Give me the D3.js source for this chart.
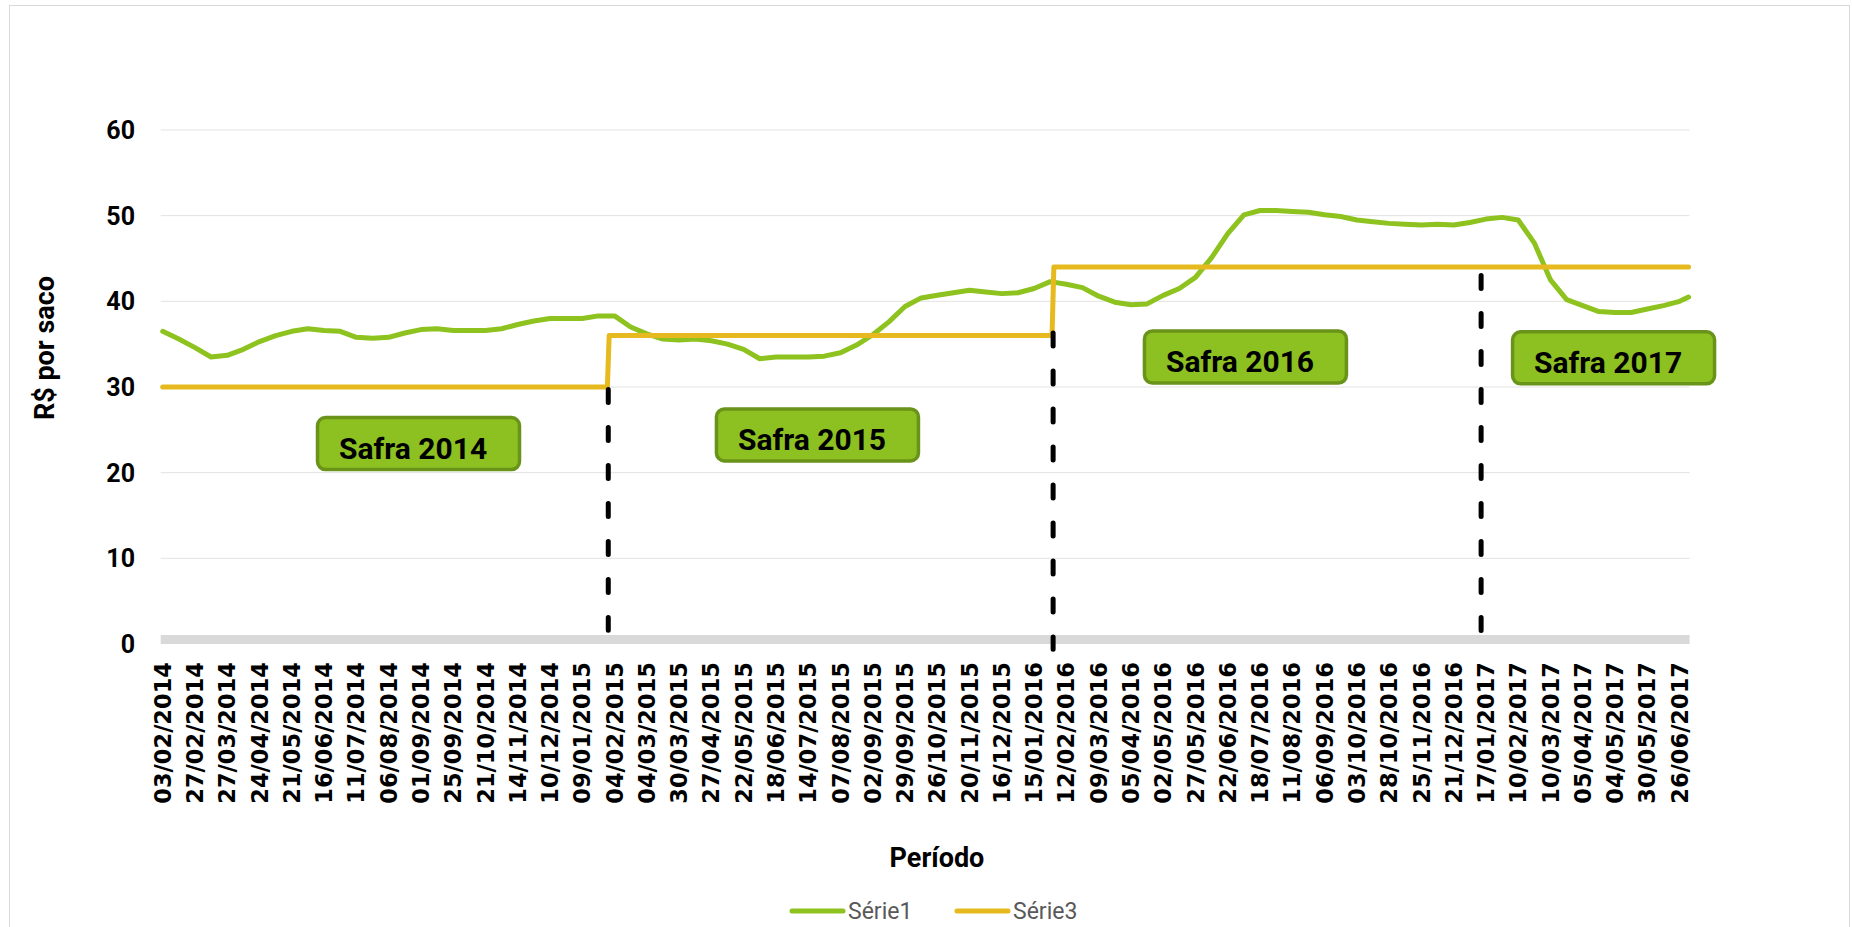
<!DOCTYPE html>
<html>
<head>
<meta charset="utf-8">
<script src="https://cdn.jsdelivr.net/npm/d3@7"></script>
<style>
  body { margin: 0; background: #fff; }
  svg { display: block; }
</style>
</head>
<body>
<svg width="1852" height="927"></svg>
<script>
// rótulos do eixo X (um a cada 18 pregões)
const rotulosDatas = [
  "03/02/2014","27/02/2014","27/03/2014","24/04/2014","21/05/2014","16/06/2014",
  "11/07/2014","06/08/2014","01/09/2014","25/09/2014","21/10/2014","14/11/2014",
  "10/12/2014","09/01/2015","04/02/2015","04/03/2015","30/03/2015","27/04/2015",
  "22/05/2015","18/06/2015","14/07/2015","07/08/2015","02/09/2015","29/09/2015",
  "26/10/2015","20/11/2015","16/12/2015","15/01/2016","12/02/2016","09/03/2016",
  "05/04/2016","02/05/2016","27/05/2016","22/06/2016","18/07/2016","11/08/2016",
  "06/09/2016","03/10/2016","28/10/2016","25/11/2016","21/12/2016","17/01/2017",
  "10/02/2017","10/03/2017","05/04/2017","04/05/2017","30/05/2017","26/06/2017"
];
const passoRotulos = 18;
const totalPregoes = 851;

// Série1: preço (R$/saco) lido a cada 9 pregões
const passoSerie1 = 9;
const serie1 = [
  36.5, 35.6, 34.6, 33.5, 33.7, 34.4, 35.3, 36.0, 36.5, 36.8,
  36.6, 36.5, 35.8, 35.7, 35.8, 36.3, 36.7, 36.8, 36.6, 36.6,
  36.6, 36.8, 37.3, 37.7, 38.0, 38.0, 38.0, 38.3, 38.3, 37.0,
  36.2, 35.6, 35.5, 35.6, 35.4, 35.0, 34.4, 33.3, 33.5, 33.5,
  33.5, 33.6, 34.0, 34.9, 36.1, 37.6, 39.4, 40.4, 40.7, 41.0,
  41.3, 41.1, 40.9, 41.0, 41.5, 42.3, 42.0, 41.6, 40.6, 39.9,
  39.6, 39.7, 40.7, 41.5, 42.8, 45.1, 47.9, 50.1, 50.6, 50.6,
  50.5, 50.4, 50.1, 49.9, 49.5, 49.3, 49.1, 49.0, 48.9, 49.0,
  48.9, 49.2, 49.6, 49.8, 49.5, 46.8, 42.5, 40.2, 39.5, 38.8,
  38.7, 38.7, 39.1, 39.5, 40.0
];
const serie1Ultimo = 40.5;

// Série3: preço mínimo por safra
const serie3Valores = [30, 36, 44];
const serie3Inicio = [0, 249, 497];

// divisórias tracejadas entre safras
const divisoriasIdx = [248.5, 496.6, 735.3];
const divisoriasTopo = [30, 36.6, 43.3];
const divisoriasBase = [1.3, -0.9, 1.1];

// caixas das safras
const safrasRotulos = ["Safra 2014", "Safra 2015", "Safra 2016", "Safra 2017"];
const safrasIdx = [85.5, 308, 546.7, 752];
const safrasValor = [23.4, 24.4, 33.5, 33.4];

const yTicks = [0, 10, 20, 30, 40, 50, 60];

const verde = "#8dc21f", amarelo = "#e6b91e";

const svg = d3.select("svg");

svg.append("rect")
  .attr("x", 9.5).attr("y", 5.5)
  .attr("width", 1840).attr("height", 940)
  .attr("fill", "none").attr("stroke", "#d9d9d9");

const x = d3.scaleLinear().domain([0, 846]).range([162.7, 1679.6]);
const y = d3.scaleLinear().domain([0, 60]).range([644, 130]);

const x0 = x(0) - 2, x1 = x(totalPregoes) + 1;

// grade
svg.append("g").selectAll("line")
  .data(yTicks.filter(d => d > 0))
  .join("line")
    .attr("x1", x0).attr("x2", x1)
    .attr("y1", d => y(d)).attr("y2", d => y(d))
    .attr("stroke", "#e2e2e2").attr("stroke-width", 1);

// eixo horizontal (faixa cinza)
svg.append("rect")
  .attr("x", x0).attr("y", y(0) - 9)
  .attr("width", x1 - x0).attr("height", 9)
  .attr("fill", "#d9d9d9");

// rótulos Y
svg.append("g").selectAll("text")
  .data(yTicks)
  .join("text")
    .attr("x", 135).attr("y", d => y(d))
    .attr("dy", "0.36em")
    .attr("text-anchor", "end")
    .style("font-family", "Roboto, sans-serif")
    .style("font-weight", "bold")
    .style("font-size", "25px")
    .text(d => d);

// rótulos X
svg.append("g").selectAll("text")
  .data(rotulosDatas)
  .join("text")
    .attr("transform", (d, i) => `translate(${x(i * passoRotulos)},662) rotate(-90)`)
    .attr("dy", "0.36em")
    .attr("text-anchor", "end")
    .style("font-family", "'DejaVu Sans', sans-serif")
    .style("font-weight", "bold")
    .style("font-size", "22.5px")
    .text(d => d);

// títulos dos eixos
svg.append("text")
  .attr("transform", "translate(54,348) rotate(-90)")
  .attr("text-anchor", "middle")
  .style("font-family", "Roboto, sans-serif")
  .style("font-weight", "bold")
  .style("font-size", "27px")
  .text("R$ por saco");

svg.append("text")
  .attr("x", 937).attr("y", 867)
  .attr("text-anchor", "middle")
  .style("font-family", "Roboto, sans-serif")
  .style("font-weight", "bold")
  .style("font-size", "27px")
  .text("Período");

// Série1
const pontos1 = serie1.map((v, k) => [k * passoSerie1, v]);
pontos1.push([totalPregoes, serie1Ultimo]);

const linha = d3.line().x(d => x(d[0])).y(d => y(d[1]));

svg.append("path")
  .datum(pontos1)
  .attr("d", linha)
  .attr("fill", "none")
  .attr("stroke", verde)
  .attr("stroke-width", 5)
  .attr("stroke-linejoin", "round")
  .attr("stroke-linecap", "round");

// Série3 (degraus)
const pontos3 = [];
serie3Valores.forEach((v, j) => {
  const fim = j < serie3Valores.length - 1 ? serie3Inicio[j + 1] - 1 : totalPregoes;
  pontos3.push([serie3Inicio[j], v], [fim, v]);
});

svg.append("path")
  .datum(pontos3)
  .attr("d", linha)
  .attr("fill", "none")
  .attr("stroke", amarelo)
  .attr("stroke-width", 5)
  .attr("stroke-linejoin", "round")
  .attr("stroke-linecap", "round");

// divisórias
svg.append("g").selectAll("line")
  .data(divisoriasIdx)
  .join("line")
    .attr("x1", d => x(d)).attr("x2", d => x(d))
    .attr("y1", (d, i) => y(divisoriasTopo[i]) + 2.5)
    .attr("y2", (d, i) => y(divisoriasBase[i]) - 2.5)
    .attr("stroke", "#000")
    .attr("stroke-width", 5)
    .attr("stroke-linecap", "round")
    .attr("stroke-dasharray", "13,25");

// caixas das safras
const caixas = svg.append("g").selectAll("g")
  .data(safrasRotulos)
  .join("g")
    .attr("transform", (d, i) => `translate(${x(safrasIdx[i])},${y(safrasValor[i])})`);

caixas.append("rect")
  .attr("x", 1.5).attr("y", -26)
  .attr("width", 202).attr("height", 52)
  .attr("rx", 8)
  .attr("fill", "#8dc021")
  .attr("stroke", "#6a9319")
  .attr("stroke-width", 3.5);

caixas.append("text")
  .attr("x", 23).attr("y", 15)
  .style("font-family", "Roboto, sans-serif")
  .style("font-weight", "bold")
  .style("font-size", "30px")
  .text(d => d);

// legenda
const legenda = [["Série1", verde, 790], ["Série3", amarelo, 955]];
const leg = svg.append("g").selectAll("g")
  .data(legenda)
  .join("g")
    .attr("transform", d => `translate(${d[2]},911)`);

leg.append("line")
  .attr("x1", 2).attr("x2", 53)
  .attr("stroke", d => d[1])
  .attr("stroke-width", 5)
  .attr("stroke-linecap", "round");

leg.append("text")
  .attr("x", 58).attr("y", 8)
  .style("font-family", "Roboto, sans-serif")
  .style("font-size", "23px")
  .attr("fill", "#595959")
  .text(d => d[0]);
</script>
</body>
</html>
